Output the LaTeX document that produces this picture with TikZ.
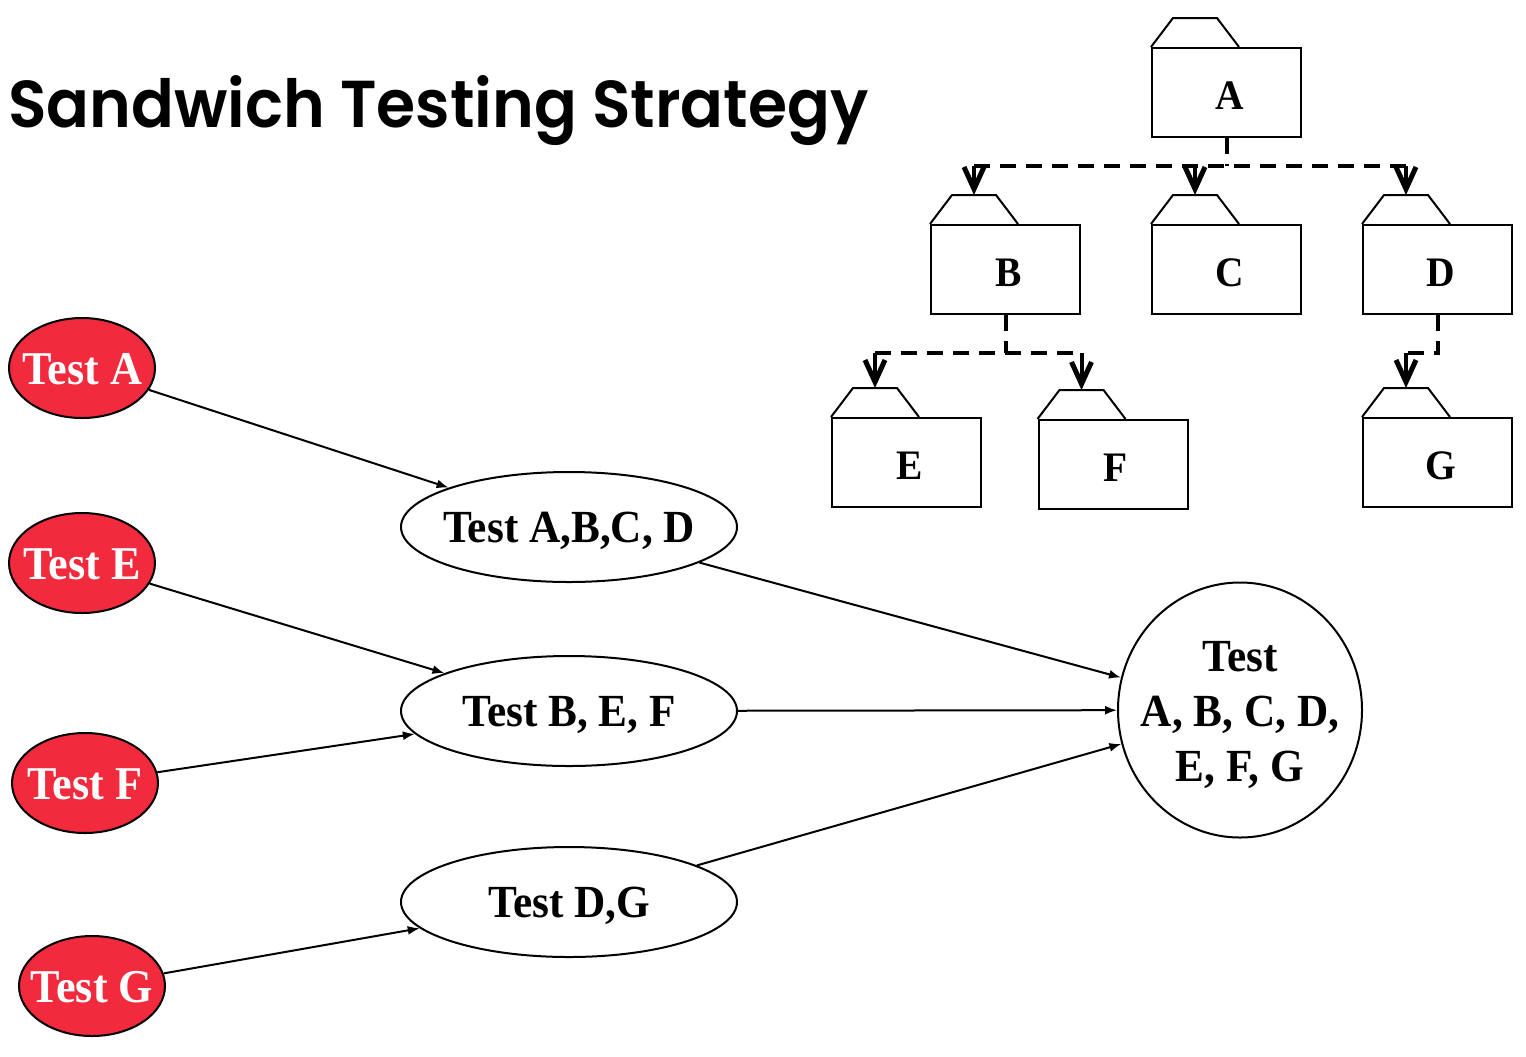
\documentclass[tikz,border=0pt]{standalone}
\usepackage{fontspec}
\setmainfont{Liberation Serif}
\newfontfamily\tbf{Liberation Serif}[FakeStretch=0.94]
\newfontfamily\titlefont{Poppins SemiBold}
\usetikzlibrary{shapes.geometric,arrows.meta,calc}
\definecolor{testred}{HTML}{F22A3D}
\tikzset{
  redell/.style={ellipse, draw=black, fill=testred, line width=1pt, inner sep=0pt,
    minimum width=73pt, minimum height=50pt},
  whiteell/.style={ellipse, draw=black, fill=white, line width=1pt, inner sep=0pt,
    minimum width=168pt, minimum height=55pt},
  bigell/.style={ellipse, draw=black, fill=white, line width=1pt, inner sep=0pt,
    minimum width=122pt, minimum height=127.5pt},
  redtext/.style={inner sep=0pt, text=white, font=\fontsize{23.5}{27.5}\tbf\bfseries,
    text height=16.5pt, text depth=0pt},
  blacktext/.style={inner sep=0pt, text=black, font=\fontsize{23}{27.5}\tbf\bfseries,
    text height=15.2pt, text depth=0pt},
  bigtext/.style={inner sep=0pt, text=black, font=\fontsize{23}{27.5}\tbf\bfseries,
    align=center, yshift=-2.5pt},
  folder/.style={rectangle, draw=black, line width=1pt, inner sep=0pt,
    minimum width=74.5pt, minimum height=44.5pt, font=\fontsize{21}{25}\tbf\bfseries,
    text height=17pt, text depth=0pt},
  tabline/.style={draw=black, line width=1pt, line join=miter},
  bus/.style={draw=black, line width=2pt, dash pattern=on 8pt off 5pt},
  treearrow/.style={draw=black, line width=2pt,
    -{Straight Barb[length=11pt,width=10pt,line width=2.5pt]}},
  conn/.style={draw=black, line width=1pt, -{Latex[length=6pt,width=4.5pt]}},
}
\begin{document}
\begin{tikzpicture}[x=0.5pt,y=-0.5pt]
\useasboundingbox (0,0) rectangle (1526,1056);
\fill[white] (0,0) rectangle (1526,1056);

% title
\node[anchor=base west, inner sep=0pt] (title) at (8,127)
  {\resizebox{430pt}{26pt}{\titlefont Sandwich Testing Strategy}};

% folders
\node[folder] (fA) at (1226.5,92.5) {\hspace*{3pt}A};
\node[folder] (fB) at (1005.5,269.5) {\hspace*{3pt}B};
\node[folder] (fC) at (1226.5,269.5) {\hspace*{3pt}C};
\node[folder] (fD) at (1437.5,269.5) {\hspace*{3pt}D};
\node[folder] (fE) at (906.5,462.5) {\hspace*{3pt}E};
\node[folder] (fF) at (1113,464.5) {\hspace*{3pt}F};
\node[folder] (fG) at (1437.5,462.5) {\hspace*{3pt}G};
\foreach \f in {A,B,C,D,E,F,G}{
  \draw[tabline] (f\f.north west) -- ++(22,-29) -- ++(22,0) coordinate (t\f)
     -- ++(22,0) -- ++(22,29);
}

% tree connectors
\coordinate (jA) at ($(fA.south)+(0,28)$);
\coordinate (jB) at ($(fB.south)+(0,38)$);
\coordinate (jD) at ($(fD.south)+(0,38)$);
\draw[bus] (fA.south) -- (jA);
\draw[bus] (tB |- jA) -- (tD |- jA);
\draw[treearrow] (tB |- jA) -- (tB);
\draw[treearrow] (tC |- jA) -- (tC);
\draw[treearrow] (tD |- jA) -- (tD);
\draw[bus] (fB.south) -- (jB);
\draw[bus] (tE |- jB) -- (tF |- jB);
\draw[treearrow] (tE |- jB) -- (tE);
\draw[treearrow] (tF |- jB) -- (tF);
\draw[bus] (fD.south) -- (jD) -- (tG |- jD);
\draw[treearrow] (tG |- jD) -- (tG);

% red test nodes
\node[redell, label={[redtext]center:Test A}] (rA) at (82,368) {};
\node[redell, label={[redtext]center:Test E}] (rE) at (82,563) {};
\node[redell, label={[redtext]center:Test F}] (rF) at (85,783) {};
\node[redell, label={[redtext]center:Test G}] (rG) at (92,986) {};

% intermediate nodes
\node[whiteell, label={[blacktext]center:Test A,B,C, D}] (eABCD) at (569,527) {};
\node[whiteell, label={[blacktext]center:Test B, E, F}] (eBEF) at (569,711) {};
\node[whiteell, label={[blacktext]center:Test D,G}] (eDG) at (569,902) {};
\node[bigell, label={[bigtext]center:Test\\A, B, C, D,\\E, F, G}] (eAll) at (1240,710) {};

% connectors
\draw[conn] (rA) -- (eABCD);
\draw[conn] (rE) -- (eBEF);
\draw[conn] (rF) -- (eBEF);
\draw[conn] (rG) -- (eDG);
\draw[conn] (eABCD) -- (eAll);
\draw[conn] (eBEF) -- (eAll);
\draw[conn] (eDG) -- (eAll);
\end{tikzpicture}
\end{document}
